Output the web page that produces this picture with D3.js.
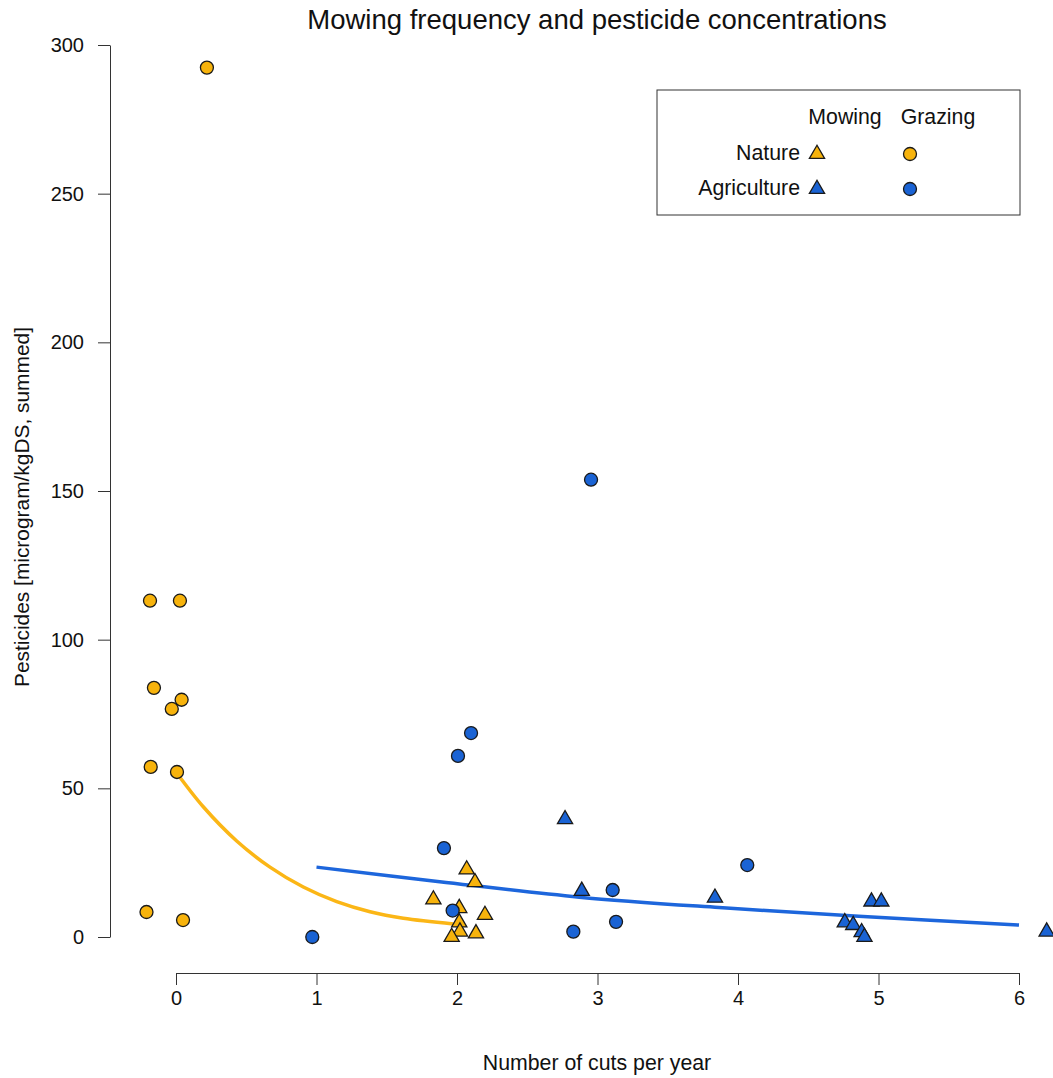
<html>
<head>
<script src="https://d3js.org/d3.v7.min.js"></script>
<style>
  body { margin: 0; background: white; }
  svg { display: block; font-family: "Liberation Sans", Arial, sans-serif; }
</style>
</head>
<body>
<svg width="1053" height="1078"></svg>
<script>
// Nature, grazing (orange circles)
var natureGrazingX = [0.22, -0.185, 0.028, -0.157, 0.04, -0.03, -0.18, 0.007, -0.21, 0.05];
var natureGrazingY = [292.4, 113.1, 113.1, 83.8, 79.8, 76.7, 57.2, 55.5, 8.4, 5.7];

// Nature, mowing (orange triangles)
var natureMowingX = [2.069, 2.128, 1.832, 2.016, 2.199, 2.016, 2.021, 2.135, 1.962];
var natureMowingY = [22.7, 18.4, 12.6, 9.7, 7.4, 4.9, 1.8, 1.2, 0];

// Agriculture, grazing (blue circles)
var agriGrazingX = [2.954, 2.100, 2.007, 1.907, 1.969, 0.970, 2.828, 3.108, 3.132, 4.066];
var agriGrazingY = [153.8, 68.6, 60.9, 29.9, 8.9, 0, 1.8, 15.8, 5.1, 24.2];

// Agriculture, mowing (blue triangles)
var agriMowingX = [2.769, 2.888, 3.836, 4.95, 5.02, 4.76, 4.82, 4.88, 4.90, 6.197];
var agriMowingY = [39.6, 15.5, 13.2, 11.9, 11.9, 4.9, 4.0, 1.6, 0, 1.8];

// fitted curves
var natureFitX = [0, 0.194, 0.432, 0.669, 0.906, 1.144, 1.381, 1.618, 1.974];
var natureFitY = [55.5, 43.8, 32.3, 23.5, 16.8, 11.9, 8.5, 6.3, 4.4];
var agriFitX = [1.0, 1.877, 2.870, 3.865, 4.859, 6.0];
var agriFitY = [23.5, 18.6, 13.4, 9.9, 7.0, 4.0];

var xTicks = [0, 1, 2, 3, 4, 5, 6];
var yTicks = [0, 50, 100, 150, 200, 250, 300];

var orange = "#f7b30c";
var blue = "#1a63d4";
var orangeLine = "#fbb616";
var blueLine = "#1d66dc";

var svg = d3.select("svg");

var x = d3.scaleLinear().domain([0, 6]).range([176, 1019]);
var y = d3.scaleLinear().domain([0, 300]).range([937, 45]);

// axes (R style: line spans the ticks only)
var xaxis = svg.append("g")
  .attr("transform", "translate(0," + 973 + ")")
  .call(d3.axisBottom(x).tickValues(xTicks).tickSize(12).tickSizeOuter(0).tickPadding(6).tickFormat(d3.format("d")));
var yaxis = svg.append("g")
  .attr("transform", "translate(" + 110 + ",0)")
  .call(d3.axisLeft(y).tickValues(yTicks).tickSize(12).tickSizeOuter(0).tickPadding(14).tickFormat(d3.format("d")));

svg.selectAll(".tick text")
  .style("font-family", "Liberation Sans, Arial, sans-serif")
  .style("font-size", "20px")
  .attr("fill", "#111");
svg.selectAll(".domain, .tick line").attr("stroke", "#333");

// titles
svg.append("text")
  .attr("x", 597).attr("y", 29)
  .attr("text-anchor", "middle")
  .style("font-size", "27.5px")
  .attr("fill", "#111")
  .text("Mowing frequency and pesticide concentrations");

svg.append("text")
  .attr("x", 597).attr("y", 1070)
  .attr("text-anchor", "middle")
  .style("font-size", "21.3px")
  .attr("fill", "#111")
  .text("Number of cuts per year");

svg.append("text")
  .attr("transform", "translate(29,507) rotate(-90)")
  .attr("text-anchor", "middle")
  .style("font-size", "20.9px")
  .attr("fill", "#111")
  .text("Pesticides [microgram/kgDS, summed]");

// fitted lines
var line = d3.line()
  .x(function(d) { return x(d[0]); })
  .y(function(d) { return y(d[1]); })
  .curve(d3.curveCatmullRom);

svg.append("path")
  .datum(d3.zip(natureFitX, natureFitY))
  .attr("d", line)
  .attr("fill", "none")
  .attr("stroke", orangeLine)
  .attr("stroke-width", 3.5);

svg.append("path")
  .datum(d3.zip(agriFitX, agriFitY))
  .attr("d", line)
  .attr("fill", "none")
  .attr("stroke", blueLine)
  .attr("stroke-width", 3.5);

// points
var tri = d3.symbol().type(d3.symbolTriangle).size(100);

function drawTriangles(xs, ys, fill) {
  svg.append("g").selectAll("path")
    .data(d3.zip(xs, ys)).enter().append("path")
    .attr("d", tri)
    .attr("transform", function(d) { return "translate(" + x(d[0]) + "," + y(d[1]) + ")"; })
    .attr("fill", fill)
    .attr("stroke", "#1a1a1a")
    .attr("stroke-width", 1.3);
}
function drawCircles(xs, ys, fill) {
  svg.append("g").selectAll("circle")
    .data(d3.zip(xs, ys)).enter().append("circle")
    .attr("cx", function(d) { return x(d[0]); })
    .attr("cy", function(d) { return y(d[1]); })
    .attr("r", 6.5)
    .attr("fill", fill)
    .attr("stroke", "#1a1a1a")
    .attr("stroke-width", 1.3);
}

drawTriangles(natureMowingX, natureMowingY, orange);
drawCircles(natureGrazingX, natureGrazingY, orange);
drawTriangles(agriMowingX, agriMowingY, blue);
drawCircles(agriGrazingX, agriGrazingY, blue);

// legend
var legend = svg.append("g");
legend.append("rect")
  .attr("x", 657).attr("y", 90).attr("width", 363).attr("height", 125)
  .attr("fill", "white").attr("stroke", "#333").attr("stroke-width", 1);

var legendCols = ["Mowing", "Grazing"];
var legendRows = ["Nature", "Agriculture"];
var colX = [845, 938];
var rowY = [153, 188];
var rowFill = [orange, blue];

legend.selectAll(".colhead").data(legendCols).enter().append("text")
  .attr("x", function(d, i) { return colX[i]; })
  .attr("y", 124)
  .attr("text-anchor", "middle")
  .style("font-size", "21.3px")
  .attr("fill", "#111")
  .text(function(d) { return d; });

legend.selectAll(".rowhead").data(legendRows).enter().append("text")
  .attr("x", 800)
  .attr("y", function(d, i) { return rowY[i] + 7; })
  .attr("text-anchor", "end")
  .style("font-size", "21.3px")
  .attr("fill", "#111")
  .text(function(d) { return d; });

legend.selectAll(".ltri").data(rowY).enter().append("path")
  .attr("d", tri)
  .attr("transform", function(d) { return "translate(817," + (d + 1) + ")"; })
  .attr("fill", function(d, i) { return rowFill[i]; })
  .attr("stroke", "#1a1a1a").attr("stroke-width", 1.3);

legend.selectAll(".lcirc").data(rowY).enter().append("circle")
  .attr("cx", 910)
  .attr("cy", function(d) { return d + 1; })
  .attr("r", 6.5)
  .attr("fill", function(d, i) { return rowFill[i]; })
  .attr("stroke", "#1a1a1a").attr("stroke-width", 1.3);
</script>
</body>
</html>
